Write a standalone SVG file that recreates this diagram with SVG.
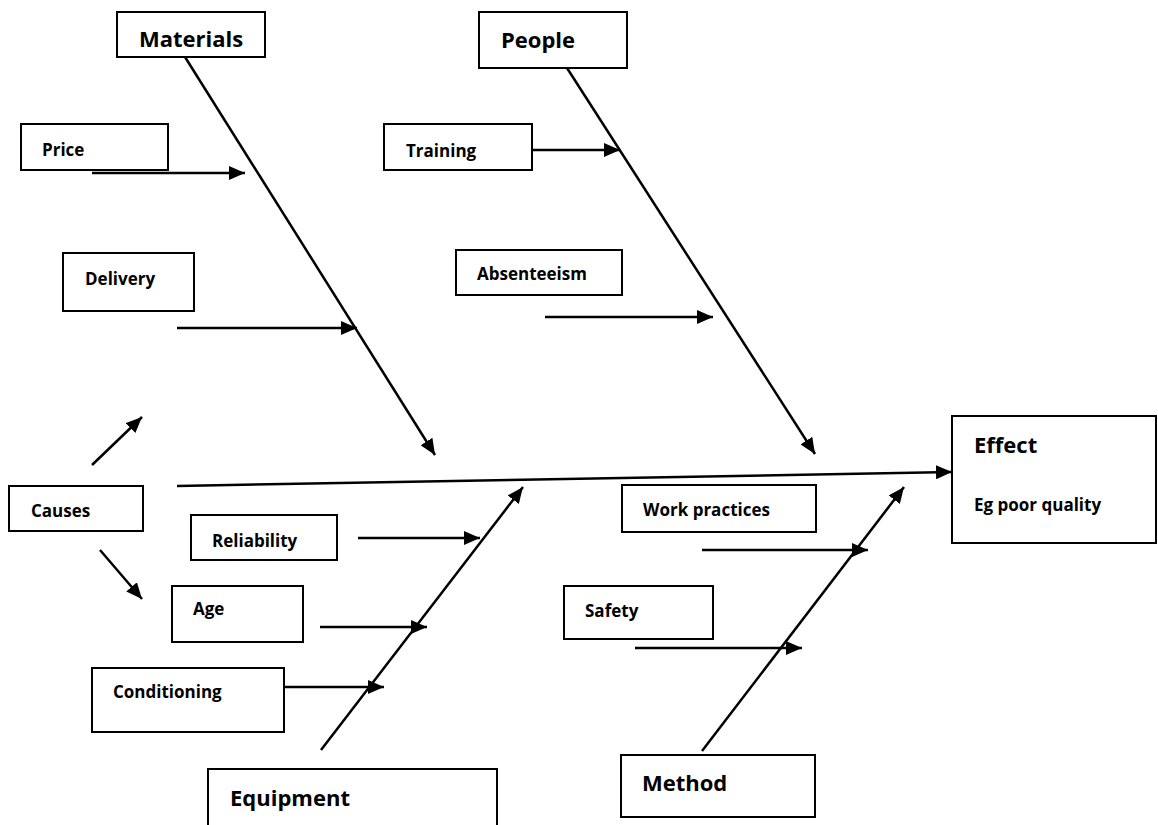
<svg xmlns="http://www.w3.org/2000/svg" width="1158" height="825" viewBox="0 0 1158 825">
  <defs>
    <marker id="head" markerUnits="userSpaceOnUse" markerWidth="16" markerHeight="14" refX="16" refY="7" orient="auto">
      <path d="M0,0 L16,7 L0,14 Z" fill="#000"/>
    </marker>
    <style>
      .box { fill: #fff; stroke: #000; stroke-width: 2; }
      .bone { stroke: #000; stroke-width: 2; fill: none; }
      .arrow { stroke: #000; stroke-width: 2.5; fill: none; marker-end: url(#head); }
      .lbl { font-family: "Open Sans", "Liberation Sans", sans-serif; font-weight: bold; font-size: 17px; fill: #000; }
      .big { font-size: 22px; }
    </style>
  </defs>
  <rect width="1158" height="825" fill="#fff"/>

  <!-- bones and cause arrows -->
  <g id="connectors">
    <line class="arrow" x1="177" y1="486" x2="952" y2="472"/>
    <line class="arrow" x1="185" y1="57" x2="435" y2="455"/>
    <line class="arrow" x1="567" y1="68" x2="815" y2="454"/>
    <line class="arrow" x1="321" y1="750" x2="523" y2="487"/>
    <line class="arrow" x1="702" y1="751" x2="904" y2="487"/>
    <line class="arrow" x1="92" y1="173" x2="245" y2="173"/>
    <line class="arrow" x1="177" y1="328" x2="357" y2="328"/>
    <line class="arrow" x1="532" y1="150" x2="620" y2="150"/>
    <line class="arrow" x1="545" y1="317" x2="713" y2="317"/>
    <line class="arrow" x1="358" y1="538" x2="480" y2="538"/>
    <line class="arrow" x1="320" y1="627" x2="427" y2="627"/>
    <line class="arrow" x1="284" y1="687" x2="384" y2="687"/>
    <line class="arrow" x1="702" y1="550" x2="868" y2="550"/>
    <line class="arrow" x1="635" y1="648" x2="802" y2="648"/>
    <line class="arrow" x1="92" y1="465" x2="142" y2="417"/>
    <line class="arrow" x1="100" y1="550" x2="142" y2="599"/>
  </g>

  <g id="materials">
    <rect class="box" x="117" y="12" width="148" height="45"/>
    <text class="lbl big" x="139" y="47">Materials</text>
  </g>
  <g id="people">
    <rect class="box" x="479" y="12" width="148" height="56"/>
    <text class="lbl big" x="501" y="48">People</text>
  </g>
  <g id="price">
    <rect class="box" x="21" y="124" width="147" height="46"/>
    <text class="lbl" x="42" y="156">Price</text>
  </g>
  <g id="training">
    <rect class="box" x="384" y="124" width="148" height="46"/>
    <text class="lbl" x="406" y="157">Training</text>
  </g>
  <g id="delivery">
    <rect class="box" x="63" y="253" width="131" height="58"/>
    <text class="lbl" x="85" y="285">Delivery</text>
  </g>
  <g id="absenteeism">
    <rect class="box" x="456" y="250" width="166" height="45"/>
    <text class="lbl" x="477" y="280">Absenteeism</text>
  </g>
  <g id="causes">
    <rect class="box" x="9" y="486" width="134" height="45"/>
    <text class="lbl" x="31" y="517">Causes</text>
  </g>
  <g id="effect">
    <rect class="box" x="952" y="416" width="204" height="127"/>
    <text class="lbl big" x="974" y="453">Effect</text>
    <text class="lbl" x="974" y="511">Eg poor quality</text>
  </g>
  <g id="reliability">
    <rect class="box" x="191" y="515" width="146" height="45"/>
    <text class="lbl" x="212" y="547">Reliability</text>
  </g>
  <g id="work-practices">
    <rect class="box" x="622" y="485" width="194" height="47"/>
    <text class="lbl" x="643" y="516">Work practices</text>
  </g>
  <g id="age">
    <rect class="box" x="172" y="586" width="131" height="56"/>
    <text class="lbl" x="193" y="615">Age</text>
  </g>
  <g id="safety">
    <rect class="box" x="564" y="586" width="149" height="53"/>
    <text class="lbl" x="585" y="617">Safety</text>
  </g>
  <g id="conditioning">
    <rect class="box" x="92" y="668" width="192" height="64"/>
    <text class="lbl" x="113" y="698">Conditioning</text>
  </g>
  <g id="equipment">
    <rect class="box" x="208" y="769" width="289" height="70"/>
    <text class="lbl big" x="230" y="806">Equipment</text>
  </g>
  <g id="method">
    <rect class="box" x="621" y="755" width="194" height="62"/>
    <text class="lbl big" x="642" y="791">Method</text>
  </g>
</svg>
